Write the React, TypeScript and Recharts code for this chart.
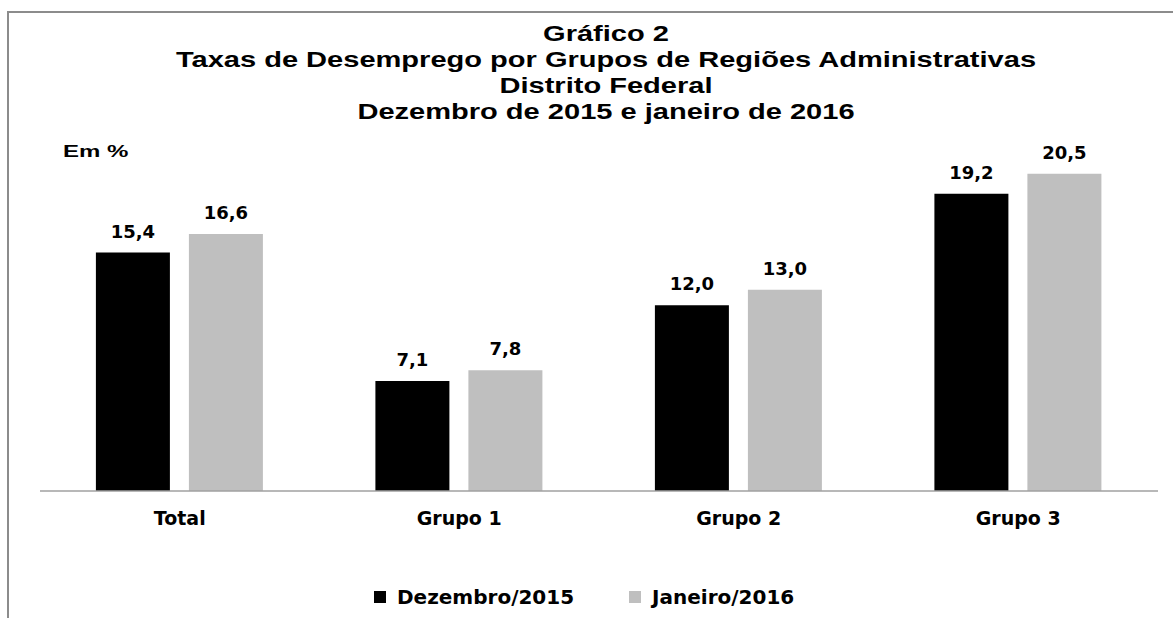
import React from "react"
import { Bar, BarChart, LabelList, Legend, XAxis, YAxis } from "recharts"

const categories = ["Total", "Grupo 1", "Grupo 2", "Grupo 3"]
const dezembro2015 = [15.4, 7.1, 12.0, 19.2]
const janeiro2016 = [16.6, 7.8, 13.0, 20.5]
const seriesNames = ["Dezembro/2015", "Janeiro/2016"]
const seriesColors = ["#000000", "#bfbfbf"]
const titleLines = [
  "Gráfico 2",
  "Taxas de Desemprego por Grupos de Regiões Administrativas",
  "Distrito Federal",
  "Dezembro de 2015 e janeiro de 2016",
]
const unitLabel = "Em %"

const data = categories.map((name, i) => ({
  name,
  dez: dezembro2015[i],
  jan: janeiro2016[i],
}))

const W = 1173
const H = 618
const labelFont = "'DejaVu Sans', Verdana, sans-serif"
const titleFont = "'Liberation Sans', Arial, sans-serif"

const fmt = (v: any) => Number(v).toFixed(1).replace(".", ",")

function LegendBox() {
  return (
    <div style={{ position: "relative", height: 30, width: W }}>
      <div style={{ position: "absolute", left: 374, top: 0, height: 30, display: "flex", alignItems: "center" }}>
        {seriesNames.map((n, i) => (
          <div key={n} style={{ display: "flex", alignItems: "center", marginRight: i === 0 ? 55 : 0 }}>
            <div style={{ width: 12, height: 12, background: seriesColors[i], marginRight: 11 }} />
            <span style={{ fontFamily: labelFont, fontWeight: "bold", fontSize: 20, lineHeight: "30px", color: "#000" }}>{n}</span>
          </div>
        ))}
      </div>
    </div>
  )
}

export default function App() {
  return (
    <div style={{ position: "absolute", left: 0, top: 0, width: W, height: H, overflow: "hidden", background: "#fff" }}>
      {/* moldura do gráfico (cortada à direita e embaixo) */}
      <div
        style={{
          position: "absolute",
          left: 7,
          top: 11,
          width: 1300,
          height: 800,
          borderLeft: "2px solid #8c8c8c",
          borderTop: "2px solid #8c8c8c",
        }}
      />
      <div
        style={{
          position: "absolute",
          left: 0,
          top: 21,
          width: 1212,
          textAlign: "center",
          fontFamily: titleFont,
          fontWeight: "bold",
          fontSize: 22,
          lineHeight: "26px",
          color: "#000",
          transform: "scaleX(1.32)",
          transformOrigin: "606px 0",
          whiteSpace: "nowrap",
        }}
      >
        {titleLines.map((t) => (
          <div key={t}>{t}</div>
        ))}
      </div>
      <div
        style={{
          position: "absolute",
          left: 63,
          top: 144,
          fontFamily: titleFont,
          fontWeight: "bold",
          fontSize: 16,
          lineHeight: "16px",
          transform: "scaleX(1.5)",
          transformOrigin: "0 0",
          whiteSpace: "nowrap",
        }}
      >
        {unitLabel}
      </div>
      <div style={{ position: "absolute", left: 0, top: 0 }}>
        <BarChart
          width={W}
          height={H}
          data={data}
          margin={{ top: 104, right: 15, left: 40, bottom: 0 }}
          barCategoryGap="20%"
          barGap={19}
        >
          <XAxis
            dataKey="name"
            height={97}
            axisLine={{ stroke: "#a0a0a0", strokeWidth: 1.5 }}
            tickLine={false}
            tickSize={0}
            tickMargin={21}
            tick={{ fontFamily: labelFont, fontWeight: "bold", fontSize: 19, fill: "#000" }}
          />
          <YAxis hide width={0} domain={[0, 25]} />
          <Legend
            verticalAlign="bottom"
            content={() => <LegendBox />}
            wrapperStyle={{ position: "absolute", left: 0, top: 582, width: W, height: 30 }}
          />
          <Bar dataKey="dez" name={seriesNames[0]} fill={seriesColors[0]} isAnimationActive={false}>
            <LabelList
              dataKey="dez"
              position="top"
              offset={15}
              formatter={fmt}
              style={{ fontFamily: labelFont, fontWeight: "bold", fontSize: 18, fill: "#000" }}
            />
          </Bar>
          <Bar dataKey="jan" name={seriesNames[1]} fill={seriesColors[1]} isAnimationActive={false}>
            <LabelList
              dataKey="jan"
              position="top"
              offset={15}
              formatter={fmt}
              style={{ fontFamily: labelFont, fontWeight: "bold", fontSize: 18, fill: "#000" }}
            />
          </Bar>
        </BarChart>
      </div>
    </div>
  )
}
